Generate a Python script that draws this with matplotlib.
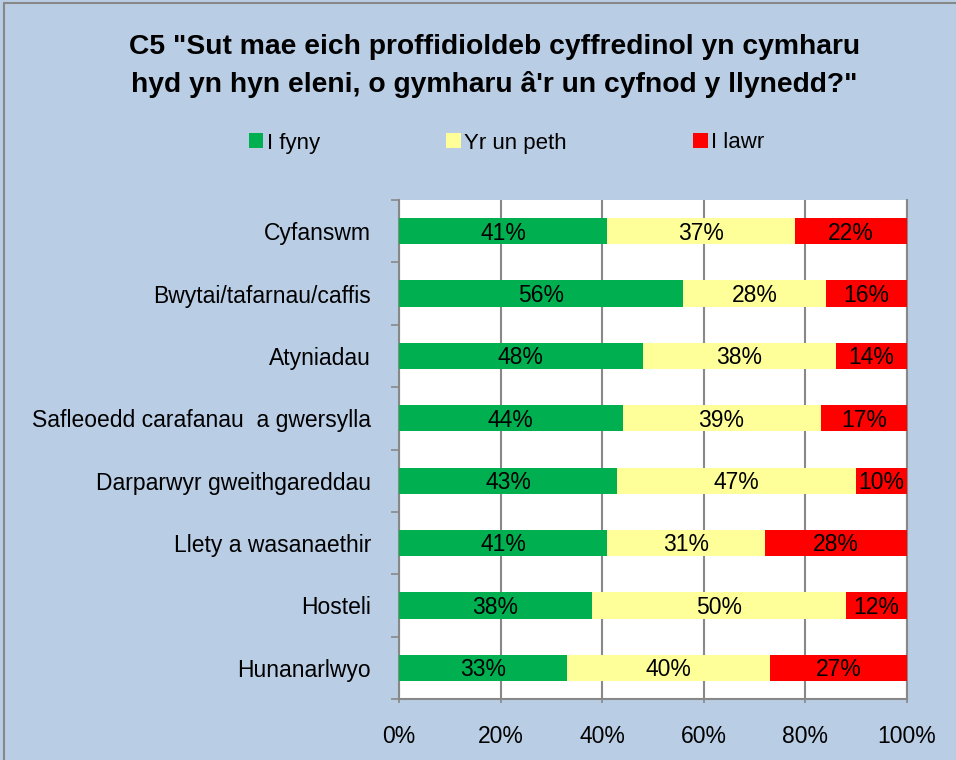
import matplotlib
matplotlib.use("Agg")
import matplotlib.pyplot as plt
from matplotlib.patches import Rectangle
import numpy as np

categories = ["Cyfanswm", "Bwytai/tafarnau/caffis", "Atyniadau",
              "Safleoedd carafanau  a gwersylla", "Darparwyr gweithgareddau",
              "Llety a wasanaethir", "Hosteli", "Hunanarlwyo"]
up = [41, 56, 48, 44, 43, 41, 38, 33]
same = [37, 28, 38, 39, 47, 31, 50, 40]
down = [22, 16, 14, 17, 10, 28, 12, 27]
series_names = ["I fyny", "Yr un peth", "I lawr"]
colors = ["#00B050", "#FFFF99", "#FF0000"]
xticks = [0, 20, 40, 60, 80, 100]
xticklabels = ["0%", "20%", "40%", "60%", "80%", "100%"]
title = 'C5 "Sut mae eich proffidioldeb cyffredinol yn cymharu\nhyd yn hyn eleni, o gymharu â\'r un cyfnod y llynedd?"'

W, H = 956, 760
fig = plt.figure(figsize=(W/100, H/100), dpi=100)
bg = "#B9CDE5"
fig.patch.set_facecolor(bg)
fig.patches.append(Rectangle((4/W, -0.01), 1.02, 1 - 3/H + 0.01, transform=fig.transFigure,
                             facecolor="none", edgecolor="#888888", linewidth=1.5))

left, right, top, bottom = 399, 907, 200, 699
ax = fig.add_axes([left/W, 1 - bottom/H, (right-left)/W, (bottom-top)/H])
ax.set_facecolor("white")

font = ["Liberation Sans", "DejaVu Sans"]
y = np.arange(len(categories))
vals = [up, same, down]
lefts = np.zeros(len(categories))
for v, c, n in zip(vals, colors, series_names):
    v = np.array(v, dtype=float)
    ax.barh(y, v, left=lefts, height=0.42, color=c, label=n, zorder=3)
    for yi, l, w in zip(y, lefts, v):
        ax.text(l + w/2, yi + 0.03, f"{int(w)}%", ha="center", va="center",
                fontsize=16.5, family=font, zorder=4, color="black")
    lefts += v

ax.set_xlim(0, 100)
ax.set_ylim(len(categories) - 0.5, -0.5)
ax.set_xticks(xticks)
ax.set_xticklabels(xticklabels, fontsize=16.5, family=font)
ax.set_yticks(y)
ax.set_yticklabels(categories, fontsize=16.5, family=font)
ax.tick_params(axis="y", length=0, pad=20)
ax.set_yticks(np.arange(-0.5, len(categories) + 0.5, 1), minor=True)
ax.tick_params(axis="y", which="minor", length=6, width=1.2, color="#888888", direction="out")
ax.tick_params(axis="x", length=6, width=1.2, color="#888888", direction="inout", pad=16)
ax.grid(axis="x", color="#888888", linewidth=1.5, zorder=1)
ax.spines["top"].set_visible(False)
for s in ["left", "bottom", "right"]:
    ax.spines[s].set_color("#888888")
    ax.spines[s].set_linewidth(1.5)

fig.text(0.517, 1 - 66/H, title, ha="center", va="center", fontsize=20.3, fontweight="bold",
         family=font, linespacing=1.5)
fig.legend(loc="center", bbox_to_anchor=(0.53, 1 - 143/H), ncol=3, frameon=False,
           prop={"family": font, "size": 16}, handlelength=0.65, handleheight=0.65,
           handletextpad=0.15, columnspacing=5.7)

fig.savefig("out.png", dpi=100, facecolor=bg)
